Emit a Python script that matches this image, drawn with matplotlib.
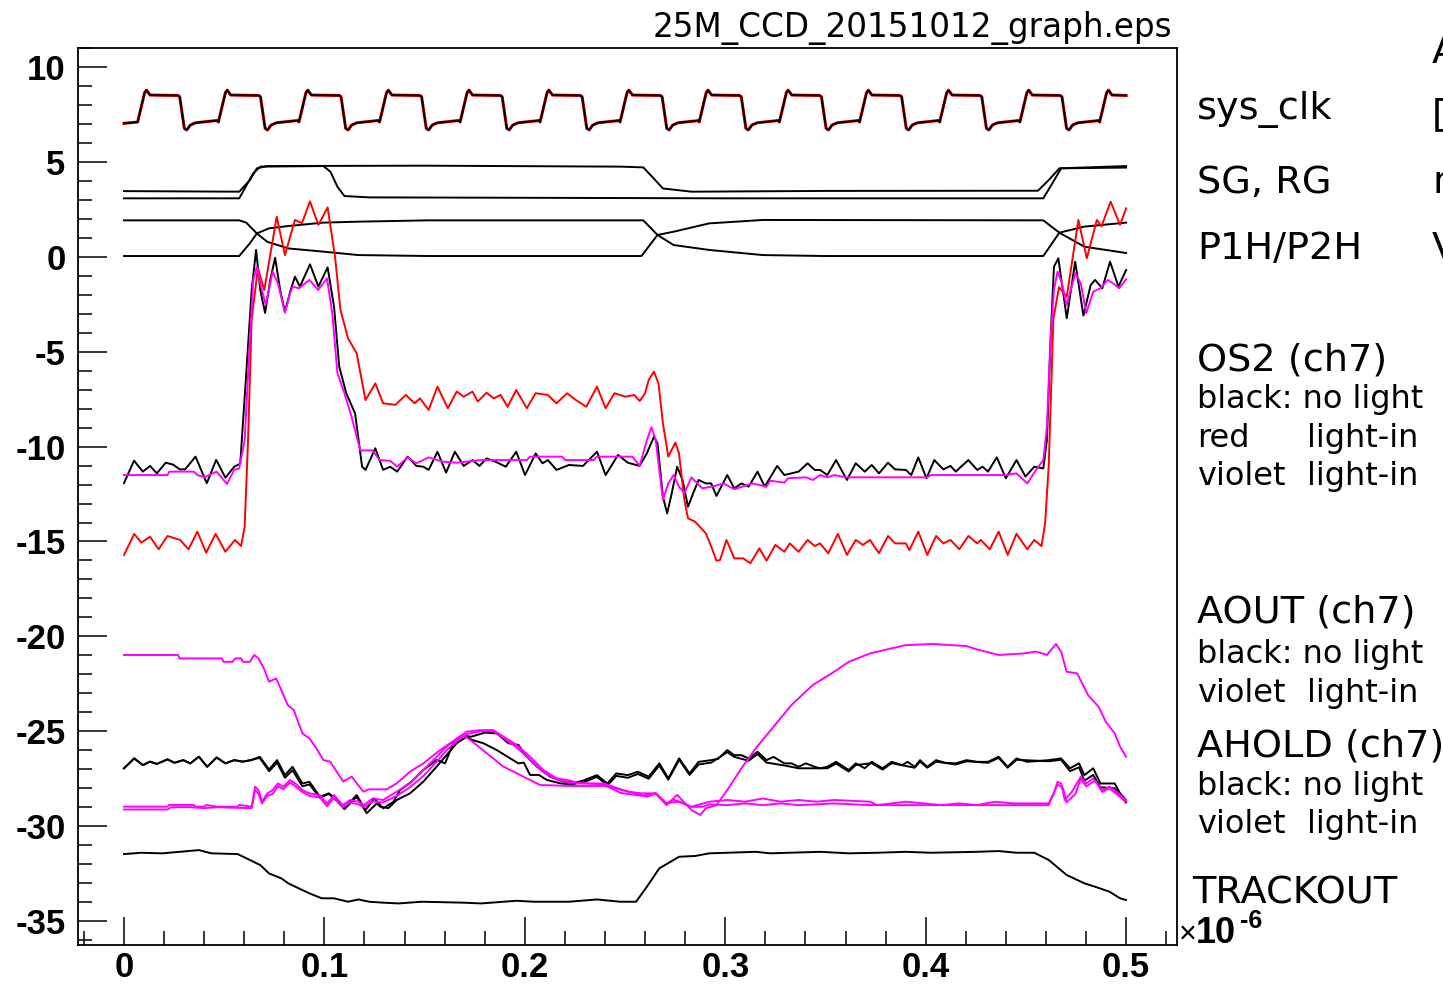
import matplotlib
matplotlib.use("Agg")
import matplotlib.pyplot as plt
from matplotlib.ticker import MultipleLocator

# ---- data (time in us, volts) ----
clk_rise_starts = [0.0068, 0.0471, 0.0873, 0.1275, 0.1677, 0.2076, 0.2475,
                   0.2870, 0.3270, 0.3670, 0.4070, 0.4470, 0.4868]
clk_shape_dt = [0.0, 0.0035, 0.0044, 0.0062, 0.0201, 0.0210, 0.0233, 0.0245, 0.0263, 0.0289, 0.0395]
clk_shape_v = [7.10, 8.65, 8.78, 8.52, 8.50, 8.43, 6.77, 6.68, 6.94, 7.06, 7.18]
clk_start_v = 7.03
clk_end_v = 8.50

sg_1 = [(0, 3.46), (0.0575, 3.43), (0.0628, 4.04), (0.0663, 4.66), (0.0715, 4.78), (0.15, 4.8),
        (0.2475, 4.75), (0.2591, 4.71), (0.2635, 4.22), (0.2689, 3.6), (0.2831, 3.43), (0.35, 3.47),
        (0.456, 3.48), (0.4614, 4.04), (0.4667, 4.66), (0.5, 4.78)]
sg_2 = [(0, 3.08), (0.0575, 3.08), (0.0645, 4.4), (0.068, 4.75), (0.0995, 4.78), (0.103, 4.48),
        (0.1065, 3.69), (0.11, 3.2), (0.1223, 3.13), (0.3, 3.08), (0.4587, 3.08), (0.4632, 3.87),
        (0.4676, 4.66), (0.5, 4.7)]

p_a = [(0, 1.92), (0.0575, 1.92), (0.061, 1.8), (0.0663, 1.23), (0.0715, 0.79), (0.082, 0.44),
       (0.0995, 0.27), (0.117, 0.09), (0.152, 0.04), (0.2582, 0.04), (0.2662, 1.15), (0.2742, 1.32),
       (0.292, 1.76), (0.3188, 1.94), (0.4587, 1.92), (0.4667, 1.27), (0.4792, 0.53), (0.5, 0.2)]
p_b = [(0, 0.04), (0.0575, 0.04), (0.0628, 0.71), (0.0663, 1.23), (0.0724, 1.5), (0.082, 1.62),
       (0.0995, 1.8), (0.117, 1.85), (0.152, 1.92), (0.2591, 1.92), (0.2662, 1.15), (0.2742, 0.62),
       (0.292, 0.36), (0.3188, 0.09), (0.35, 0.04), (0.4587, 0.04), (0.4667, 1.27), (0.4792, 1.59),
       (0.5, 1.8)]

os2_black = [(0.0, -11.93), (0.005, -10.74), (0.0094, -11.32), (0.013, -11.02), (0.0164, -11.41),
             (0.0208, -10.85), (0.0245, -10.95), (0.0278, -11.2), (0.0305, -11.2), (0.0357, -10.53),
             (0.0413, -11.93), (0.046, -10.7), (0.0506, -11.64), (0.055, -11.06), (0.058, -10.9),
             (0.061, -6.14), (0.0637, -1.75), (0.0659, 0.36), (0.068, -1.75), (0.0704, -2.96),
             (0.073, -1.2), (0.0754, -0.05), (0.078, -1.8), (0.0803, -2.9), (0.083, -1.8),
             (0.0853, -1.05), (0.0878, -1.57), (0.0928, -0.4), (0.097, -1.57), (0.1016, -0.56),
             (0.1048, -2.63), (0.1074, -5.79), (0.1109, -7.19), (0.1153, -8.25), (0.1188, -11.06),
             (0.1205, -11.23), (0.1254, -10.09), (0.1293, -11.23), (0.1328, -11.06), (0.1363, -11.32),
             (0.1415, -10.53), (0.1459, -11.02), (0.1494, -11.06), (0.152, -11.23), (0.1564, -10.27),
             (0.1607, -11.37), (0.1651, -10.27), (0.1695, -11.02), (0.1739, -10.71), (0.1774, -11.02),
             (0.1809, -10.62), (0.1852, -10.79), (0.1905, -11.06), (0.1957, -10.27), (0.2001, -11.5),
             (0.2054, -10.36), (0.2088, -10.88), (0.2115, -10.71), (0.2158, -11.23), (0.222, -10.97),
             (0.229, -11.02), (0.236, -10.27), (0.2403, -11.5), (0.2465, -10.44), (0.2514, -10.85),
             (0.2573, -11.02), (0.2609, -10.35), (0.2644, -9.48), (0.2662, -9.83), (0.2689, -12.64),
             (0.271, -13.52), (0.2733, -12.46), (0.276, -11.06), (0.2787, -11.76), (0.2814, -13.17),
             (0.284, -12.46), (0.2867, -11.76), (0.2903, -11.94), (0.293, -11.94), (0.2956, -12.6),
             (0.301, -11.5), (0.3045, -12.2), (0.3081, -11.94), (0.3117, -12.11), (0.3161, -11.32),
             (0.3197, -12.11), (0.3259, -11.02), (0.3295, -11.5), (0.3366, -11.32), (0.3411, -10.88),
             (0.3446, -11.23), (0.3473, -11.23), (0.3509, -11.5), (0.3553, -10.71), (0.3607, -11.76),
             (0.3651, -10.88), (0.3696, -11.32), (0.3731, -10.97), (0.3767, -11.41), (0.3812, -10.85),
             (0.3847, -11.2), (0.3901, -11.23), (0.3928, -11.5), (0.3963, -10.57), (0.4004, -11.67),
             (0.4043, -10.71), (0.4088, -11.2), (0.4124, -11.02), (0.415, -11.32), (0.4213, -10.71),
             (0.4257, -11.23), (0.4284, -11.06), (0.4311, -11.32), (0.4355, -10.57), (0.44, -11.67),
             (0.4453, -10.71), (0.4498, -11.58), (0.4542, -11.06), (0.4587, -11.15), (0.4605, -9.65),
             (0.4623, -4.38), (0.464, -0.52), (0.4662, -0.08), (0.4704, -3.24), (0.4746, -0.26),
             (0.4787, -3.1), (0.4823, -1.5), (0.4845, -1.22), (0.4881, -1.66), (0.492, -0.26),
             (0.4962, -1.57), (0.5, -0.7)]

os2_red = [(0.0, -15.71), (0.0051, -14.6), (0.0086, -15.06), (0.013, -14.75), (0.0173, -15.41),
           (0.0217, -14.71), (0.028, -14.92), (0.0322, -15.41), (0.0366, -14.48), (0.041, -15.59),
           (0.0457, -14.6), (0.0506, -15.54), (0.0554, -14.92), (0.0584, -15.24), (0.0602, -14.22),
           (0.0619, -9.65), (0.0637, -3.3), (0.0668, -0.6), (0.07, -1.75), (0.0762, 2.11),
           (0.0803, 0.09), (0.0853, 1.94), (0.0888, 1.77), (0.0928, 2.92), (0.097, 1.68),
           (0.1016, 2.6), (0.1053, 0.0), (0.108, -2.8), (0.1118, -4.3), (0.1161, -5.09),
           (0.1205, -7.55), (0.1254, -6.67), (0.1293, -7.72), (0.1354, -7.8), (0.1406, -7.28),
           (0.145, -7.72), (0.1477, -7.46), (0.152, -8.07), (0.1564, -6.84), (0.1616, -7.98),
           (0.166, -7.1), (0.1695, -7.37), (0.1739, -7.1), (0.1765, -7.63), (0.1809, -7.16),
           (0.1844, -7.46), (0.1879, -7.28), (0.1914, -7.9), (0.1957, -7.02), (0.201, -7.98),
           (0.2054, -7.19), (0.2115, -7.28), (0.2158, -7.72), (0.2211, -7.19), (0.2255, -7.55),
           (0.2307, -7.9), (0.236, -6.84), (0.2403, -7.98), (0.2447, -7.19), (0.2475, -7.28),
           (0.2502, -7.37), (0.2546, -7.28), (0.2573, -7.6), (0.26, -7.19), (0.2618, -6.49),
           (0.2644, -6.05), (0.2667, -6.67), (0.2689, -8.78), (0.2716, -10.53), (0.2751, -9.79),
           (0.2769, -10.35), (0.2796, -12.81), (0.2814, -13.78), (0.285, -13.96), (0.2903, -14.57),
           (0.293, -15.27), (0.2956, -16.01), (0.2974, -15.98), (0.3006, -14.92), (0.3045, -15.89),
           (0.309, -15.89), (0.3125, -16.15), (0.317, -15.36), (0.3206, -16.01), (0.325, -15.18),
           (0.3295, -15.54), (0.3322, -15.1), (0.3366, -15.54), (0.3411, -14.92), (0.3446, -15.24),
           (0.3473, -15.1), (0.3514, -15.62), (0.3562, -14.6), (0.3607, -15.71), (0.3651, -14.92),
           (0.3687, -15.18), (0.3722, -14.92), (0.3767, -15.62), (0.3812, -14.71), (0.3847, -15.1),
           (0.3901, -15.1), (0.3919, -15.45), (0.3963, -14.48), (0.4008, -15.71), (0.4052, -14.71),
           (0.4088, -15.1), (0.4124, -14.92), (0.4168, -15.41), (0.4213, -14.71), (0.4257, -15.1),
           (0.4275, -14.92), (0.432, -15.41), (0.4364, -14.48), (0.4409, -15.71), (0.4453, -14.6),
           (0.4507, -15.41), (0.4542, -14.92), (0.4578, -15.24), (0.4596, -14.04), (0.4614, -11.0),
           (0.4637, -3.3), (0.4665, -1.6), (0.4704, -2.1), (0.4762, 1.94), (0.4804, -0.08),
           (0.4854, 1.94), (0.4877, 1.6), (0.4923, 2.9), (0.497, 1.68), (0.5, 2.55)]

os2_violet = [(0.0, -11.5), (0.0217, -11.5), (0.0226, -11.32), (0.0348, -11.32), (0.0366, -11.5),
              (0.0401, -11.62), (0.0462, -11.32), (0.0514, -11.97), (0.055, -11.23), (0.0575, -11.15),
              (0.0602, -9.65), (0.0628, -4.38), (0.0645, -1.22), (0.0663, -0.52), (0.068, -1.4),
              (0.0707, -2.54), (0.0742, -0.78), (0.0768, -1.4), (0.0803, -2.94), (0.0829, -1.92),
              (0.0842, -1.57), (0.0873, -1.66), (0.0925, -1.22), (0.0969, -1.75), (0.1013, -1.14),
              (0.1039, -2.98), (0.1065, -6.14), (0.11, -7.19), (0.1135, -8.42), (0.1179, -10.2),
              (0.124, -10.2), (0.1275, -10.71), (0.1328, -10.75), (0.1363, -11.06), (0.1415, -10.57),
              (0.1459, -10.88), (0.152, -10.57), (0.159, -10.79), (0.166, -10.85), (0.1782, -10.71),
              (0.201, -10.71), (0.2027, -10.53), (0.2185, -10.53), (0.2202, -10.71), (0.2342, -10.71),
              (0.236, -10.53), (0.2537, -10.53), (0.2573, -11.02), (0.2609, -9.65), (0.2632, -8.98),
              (0.2653, -9.65), (0.2689, -12.81), (0.2716, -11.94), (0.2742, -11.5), (0.2769, -12.11),
              (0.2796, -12.46), (0.2831, -11.62), (0.2885, -12.2), (0.2938, -12.1), (0.2992, -11.94),
              (0.3045, -12.25), (0.3134, -11.94), (0.3206, -12.11), (0.3224, -11.8), (0.3295, -11.9),
              (0.3313, -11.67), (0.3402, -11.62), (0.3438, -11.76), (0.3473, -11.5), (0.3509, -11.62),
              (0.3544, -11.5), (0.3598, -11.62), (0.4008, -11.62), (0.4026, -11.5), (0.44, -11.5),
              (0.4453, -11.41), (0.4507, -11.94), (0.4551, -11.23), (0.4587, -10.71), (0.4605, -8.95),
              (0.4623, -4.38), (0.464, -1.75), (0.4658, -0.78), (0.468, -1.4), (0.4703, -2.54),
              (0.4747, -0.87), (0.4774, -1.4), (0.4801, -2.98), (0.4836, -1.84), (0.4872, -1.66),
              (0.4908, -1.22), (0.4935, -1.4), (0.4966, -1.66), (0.5, -1.19)]

aout_black = [(0.0, -26.95), (0.0051, -26.43), (0.0094, -26.78), (0.013, -26.6), (0.0164, -26.72),
              (0.0217, -26.48), (0.0252, -26.66), (0.0296, -26.52), (0.0331, -26.69), (0.0374, -26.34),
              (0.0415, -26.87), (0.0462, -26.38), (0.0506, -26.69), (0.055, -26.52), (0.0593, -26.6),
              (0.0637, -26.52), (0.0677, -26.34), (0.0724, -27.01), (0.0764, -26.52), (0.0803, -27.31),
              (0.0841, -26.87), (0.089, -27.75), (0.0925, -27.66), (0.0978, -28.45), (0.1022, -28.27),
              (0.1065, -28.62), (0.11, -29.06), (0.1161, -28.36), (0.1205, -29.15), (0.1249, -28.54),
              (0.1293, -29.06), (0.1345, -28.71), (0.1377, -28.1), (0.1435, -27.65), (0.1494, -27.04),
              (0.156, -26.51), (0.1602, -26.69), (0.1643, -25.63), (0.1685, -25.25), (0.1735, -25.28),
              (0.1801, -25.07), (0.186, -25.11), (0.1918, -25.63), (0.1968, -25.72), (0.201, -26.34),
              (0.206, -26.86), (0.2126, -27.39), (0.2193, -27.65), (0.2255, -27.7), (0.229, -27.6),
              (0.236, -27.31), (0.2412, -27.75), (0.2456, -27.22), (0.2514, -27.31), (0.2564, -27.13),
              (0.2618, -27.39), (0.2671, -26.69), (0.2716, -27.48), (0.277, -26.43), (0.2822, -27.22),
              (0.2867, -26.61), (0.293, -26.52), (0.2965, -26.45), (0.301, -25.99), (0.3045, -26.26),
              (0.3081, -26.26), (0.3117, -26.43), (0.3161, -26.08), (0.3206, -26.52), (0.3241, -26.35),
              (0.3295, -26.69), (0.3331, -26.69), (0.3366, -26.87), (0.3402, -26.69), (0.3446, -26.87),
              (0.3473, -26.95), (0.3509, -26.87), (0.3553, -26.61), (0.3616, -27.04), (0.3651, -26.69),
              (0.3696, -26.95), (0.3731, -26.61), (0.3785, -26.95), (0.383, -26.61), (0.3883, -26.78),
              (0.391, -26.61), (0.3945, -26.87), (0.3972, -26.52), (0.4008, -26.87), (0.4052, -26.52),
              (0.4097, -26.66), (0.415, -26.69), (0.4204, -26.52), (0.4257, -26.61), (0.4311, -26.61),
              (0.4364, -26.34), (0.4409, -26.87), (0.4453, -26.43), (0.4507, -26.61), (0.4614, -26.52),
              (0.4676, -26.43), (0.472, -26.95), (0.4765, -26.69), (0.4792, -27.31), (0.4836, -26.95),
              (0.4872, -27.75), (0.4907, -27.75), (0.4943, -27.75), (0.497, -28.27), (0.5, -28.62)]

ahold_black = [(0.0, -26.95), (0.0051, -26.43), (0.0094, -26.78), (0.013, -26.6), (0.0164, -26.72),
               (0.0217, -26.48), (0.0252, -26.66), (0.0296, -26.52), (0.0331, -26.69), (0.0374, -26.34),
               (0.0415, -26.87), (0.0462, -26.38), (0.0506, -26.69), (0.055, -26.52), (0.0593, -26.6),
               (0.0637, -26.5), (0.0677, -26.4), (0.0724, -27.1), (0.0764, -26.65), (0.0803, -27.45),
               (0.0841, -27.05), (0.089, -27.9), (0.0925, -27.8), (0.0978, -28.5), (0.1022, -28.3),
               (0.1065, -28.7), (0.11, -29.1), (0.1161, -28.45), (0.1211, -29.32), (0.1261, -28.8),
               (0.1278, -28.97), (0.1319, -29.05), (0.1361, -28.62), (0.1427, -28.27), (0.1494, -27.65),
               (0.156, -26.86), (0.161, -26.25), (0.166, -25.63), (0.171, -25.28), (0.1735, -25.45),
               (0.1793, -25.63), (0.186, -25.99), (0.1926, -26.42), (0.1968, -26.69), (0.1995, -26.65),
               (0.2026, -27.3), (0.207, -27.3), (0.2109, -27.56), (0.2176, -27.74), (0.2226, -27.8),
               (0.229, -27.7), (0.236, -27.4), (0.2412, -27.85), (0.2456, -27.35), (0.2514, -27.45),
               (0.2564, -27.25), (0.2618, -27.5), (0.2671, -26.8), (0.2716, -27.55), (0.277, -26.5),
               (0.2822, -27.3), (0.2867, -26.75), (0.293, -26.65), (0.301, -26.1), (0.3045, -26.35),
               (0.3117, -26.55), (0.3161, -26.2), (0.3206, -26.65), (0.3295, -26.8), (0.3366, -26.95),
               (0.3446, -26.95), (0.3509, -26.95), (0.3553, -26.7), (0.3616, -27.12), (0.3651, -26.78),
               (0.3731, -26.68), (0.3785, -27.02), (0.383, -26.68), (0.3945, -26.92), (0.3972, -26.6),
               (0.4008, -26.92), (0.4052, -26.6), (0.415, -26.75), (0.4204, -26.58), (0.4311, -26.66),
               (0.4364, -26.4), (0.4409, -26.92), (0.4453, -26.5), (0.4614, -26.58), (0.4676, -26.5),
               (0.472, -27.1), (0.4765, -26.9), (0.4792, -27.6), (0.4836, -27.3), (0.4872, -27.95),
               (0.4943, -28.0), (0.497, -28.4), (0.5, -28.75)]

aout_violet = [(0.0, -20.98), (0.0269, -20.98), (0.0278, -21.16), (0.0488, -21.16), (0.0497, -21.34),
               (0.0541, -21.34), (0.0555, -21.16), (0.0585, -21.16), (0.0593, -21.34), (0.0628, -21.34),
               (0.065, -20.98), (0.0671, -21.16), (0.0698, -21.69), (0.0724, -22.39), (0.0759, -22.21),
               (0.0785, -22.83), (0.0817, -23.62), (0.0847, -23.88), (0.089, -25.11), (0.0925, -25.37),
               (0.096, -25.9), (0.0995, -26.52), (0.1028, -26.6), (0.1094, -27.65), (0.1136, -27.39),
               (0.1194, -28.18), (0.1223, -28.06), (0.131, -28.06), (0.1361, -27.74), (0.1427, -27.13),
               (0.1494, -26.69), (0.1577, -25.99), (0.1627, -25.63), (0.1693, -25.2), (0.1727, -25.45),
               (0.181, -26.16), (0.1893, -26.86), (0.1993, -27.39), (0.2076, -27.83), (0.2226, -27.88),
               (0.2395, -27.88), (0.2475, -28.06), (0.2564, -28.3), (0.2609, -28.45), (0.2653, -28.27),
               (0.2707, -28.89), (0.276, -28.35), (0.2831, -29.15), (0.2876, -29.41), (0.2903, -29.05),
               (0.2956, -28.89), (0.301, -28.1), (0.3081, -26.95), (0.3152, -25.9), (0.3241, -24.76),
               (0.333, -23.62), (0.3437, -22.56), (0.3544, -21.86), (0.3616, -21.34), (0.3722, -20.9),
               (0.383, -20.63), (0.3901, -20.46), (0.4034, -20.4), (0.4204, -20.51), (0.4257, -20.69),
               (0.4364, -20.98), (0.4489, -20.9), (0.4551, -20.8), (0.4605, -20.98), (0.465, -20.4),
               (0.4676, -20.81), (0.4703, -21.86), (0.4756, -21.95), (0.481, -23.09), (0.4863, -23.71),
               (0.4899, -24.5), (0.4943, -25.11), (0.497, -25.81), (0.5, -26.34)]

ahold_violet_1 = [(0.0, -28.97), (0.0217, -28.97), (0.0226, -28.88), (0.0348, -28.88), (0.0357, -28.97),
                  (0.0401, -28.97), (0.041, -28.88), (0.0462, -28.97), (0.0567, -28.97), (0.0575, -28.88),
                  (0.0637, -28.97), (0.0654, -27.92), (0.0671, -28.1), (0.0689, -28.71), (0.0715, -28.27),
                  (0.0742, -28.1), (0.0768, -27.75), (0.0794, -27.92), (0.0829, -27.57), (0.0855, -27.75),
                  (0.089, -28.1), (0.0925, -28.27), (0.0978, -28.36), (0.1013, -28.8), (0.1048, -28.36),
                  (0.1092, -28.89), (0.1127, -28.62), (0.117, -28.71), (0.1197, -28.89), (0.124, -28.54),
                  (0.1293, -28.62), (0.1361, -28.18), (0.1427, -27.74), (0.1527, -26.69), (0.161, -25.81),
                  (0.1661, -25.37), (0.171, -25.02), (0.1777, -24.94), (0.1843, -24.94), (0.1893, -25.28),
                  (0.1959, -25.72), (0.2026, -26.34), (0.2092, -27.04), (0.2159, -27.48), (0.2226, -27.6),
                  (0.2272, -27.75), (0.2395, -27.75), (0.2465, -28.01), (0.2514, -28.18), (0.2582, -28.27),
                  (0.2653, -28.27), (0.2707, -28.8), (0.2742, -28.6), (0.2831, -28.98), (0.2921, -28.71),
                  (0.301, -28.62), (0.3099, -28.71), (0.3188, -28.54), (0.3277, -28.71), (0.3366, -28.62),
                  (0.3455, -28.71), (0.3544, -28.62), (0.3722, -28.71), (0.3758, -28.89), (0.3901, -28.71),
                  (0.399, -28.8), (0.4079, -28.89), (0.4257, -28.89), (0.4346, -28.71), (0.4435, -28.8),
                  (0.4614, -28.8), (0.464, -28.27), (0.4658, -27.66), (0.4676, -27.75), (0.4694, -28.62),
                  (0.473, -28.18), (0.4774, -27.39), (0.4801, -27.75), (0.4836, -27.48), (0.4881, -28.1),
                  (0.4917, -27.92), (0.4952, -28.18), (0.5, -28.62)]

ahold_violet_2 = [(0.0, -29.12), (0.0217, -29.12), (0.0235, -29.0), (0.033, -29.0), (0.0401, -29.05),
                  (0.0462, -29.0), (0.0637, -29.05), (0.0654, -28.1), (0.0671, -28.3), (0.0689, -28.8),
                  (0.0715, -28.4), (0.0742, -28.3), (0.0768, -27.9), (0.0794, -28.05), (0.0829, -27.7),
                  (0.0855, -27.9), (0.089, -28.2), (0.0925, -28.4), (0.0978, -28.5), (0.1013, -28.95),
                  (0.1048, -28.5), (0.1092, -29.0), (0.1127, -28.75), (0.117, -28.85), (0.1197, -29.0),
                  (0.124, -28.7), (0.1293, -28.75), (0.1361, -28.4), (0.1427, -27.95), (0.1494, -27.35),
                  (0.156, -26.6), (0.161, -26.0), (0.166, -25.5), (0.171, -25.15), (0.1777, -25.0),
                  (0.1843, -25.0), (0.1893, -25.35), (0.1959, -25.85), (0.2026, -26.5), (0.2092, -27.15),
                  (0.2159, -27.55), (0.2226, -27.7), (0.2395, -27.8), (0.2475, -28.24), (0.2582, -28.4),
                  (0.2653, -28.27), (0.2707, -28.8), (0.2769, -28.7), (0.2831, -28.98), (0.2885, -28.98),
                  (0.2921, -28.85), (0.301, -28.89), (0.3099, -28.8), (0.3188, -28.89), (0.3277, -28.8),
                  (0.3366, -28.89), (0.3544, -28.8), (0.3722, -28.89), (0.3901, -28.89), (0.4079, -28.89),
                  (0.4168, -28.8), (0.4257, -28.89), (0.4435, -28.89), (0.4614, -28.89), (0.4632, -28.4),
                  (0.4658, -27.8), (0.4685, -28.0), (0.4703, -28.75), (0.4747, -28.3), (0.4774, -27.5),
                  (0.4801, -27.9), (0.4845, -27.6), (0.4881, -28.2), (0.4917, -28.0), (0.4952, -28.3),
                  (0.5, -28.7)]

trackout = [(0.0, -31.47), (0.0086, -31.4), (0.0191, -31.43), (0.0278, -31.35), (0.0374, -31.26),
            (0.0436, -31.43), (0.0567, -31.47), (0.0628, -31.78), (0.068, -32.05), (0.0724, -32.49),
            (0.0785, -32.75), (0.082, -33.01), (0.0873, -33.28), (0.0925, -33.54), (0.0987, -33.8),
            (0.1048, -33.8), (0.1118, -33.98), (0.117, -33.86), (0.1223, -33.98), (0.1293, -34.03),
            (0.1371, -34.07), (0.1485, -33.98), (0.1695, -34.03), (0.1782, -34.07), (0.1957, -33.93),
            (0.2045, -33.98), (0.222, -33.98), (0.236, -33.86), (0.2475, -33.98), (0.2555, -33.98),
            (0.2609, -33.19), (0.2671, -32.22), (0.277, -31.61), (0.285, -31.57), (0.292, -31.43),
            (0.301, -31.4), (0.3152, -31.35), (0.3224, -31.43), (0.3473, -31.35), (0.3616, -31.43),
            (0.3758, -31.4), (0.3901, -31.35), (0.4026, -31.4), (0.4257, -31.35), (0.4364, -31.31),
            (0.4453, -31.4), (0.4542, -31.4), (0.4614, -31.78), (0.4703, -32.57), (0.4792, -33.01),
            (0.4845, -33.19), (0.4917, -33.45), (0.497, -33.8), (0.5, -33.89)]

x_ticks = [0, 0.1, 0.2, 0.3, 0.4, 0.5]
x_labels = ["0", "0.1", "0.2", "0.3", "0.4", "0.5"]
y_ticks = [-35, -30, -25, -20, -15, -10, -5, 0, 5, 10]

# labels on the right: (text, x px, baseline px, size)
right_labels = [
    ("sys_clk", 1197, 119, 27.5), ("SG, RG", 1197, 193, 27.5), ("P1H/P2H", 1197, 259, 27.5),
    ("OS2 (ch7)", 1197, 370, 27.5),
    ("black: no light", 1197, 408, 23),
    ("red", 1197, 447, 23), ("light-in", 1307, 447, 23),
    ("violet", 1197, 485, 23), ("light-in", 1307, 485, 23),
    ("AOUT (ch7)", 1197, 622, 27.5),
    ("black: no light", 1197, 663, 23),
    ("violet", 1197, 702, 23), ("light-in", 1307, 702, 23),
    ("AHOLD (ch7)", 1197, 757, 27.5),
    ("black: no light", 1197, 795, 23),
    ("violet", 1197, 833, 23), ("light-in", 1307, 833, 23),
    ("TRACKOUT", 1192, 904, 27.5),
    ("A", 1432, 63, 27.5), ("[", 1432, 125, 27.5), ("n", 1432, 193, 27.5), ("V", 1432, 259, 27.5),
]


def clock_points():
    pts = [(0.0, clk_start_v)]
    for r in clk_rise_starts:
        for dt, v in zip(clk_shape_dt, clk_shape_v):
            if r + dt < 0.5:
                pts.append((r + dt, v))
    pts.append((0.5, clk_end_v))
    return pts


W, H = 1443, 984
fig = plt.figure(figsize=(W / 100, H / 100), dpi=100)
ax = fig.add_axes([78 / W, 1 - 945 / H, (1177 - 78) / W, (945 - 48) / H])


def draw(points, color, lw=1.4):
    t, v = zip(*points)
    ax.plot(t, v, color=color, lw=lw, solid_joinstyle="round")


clk = clock_points()
draw(clk, "red", lw=2.2)
draw(clk, "black", lw=1.4)
for tr in (sg_1, sg_2, p_a, p_b):
    draw(tr, "black")
draw(os2_black, "black")
draw(os2_red, "red")
draw(os2_violet, "magenta")
draw(aout_black, "black")
draw(ahold_black, "black")
draw(aout_violet, "magenta")
draw(ahold_violet_1, "magenta")
draw(ahold_violet_2, "magenta")
draw(trackout, "black")

ax.set_xlim(-0.02295, 0.5254)
ax.set_ylim(-36.26, 11.0)
for s in ax.spines.values():
    s.set_linewidth(1.3)

tick_font = {"family": "Liberation Sans", "weight": "bold", "size": 25}
ax.set_xticks(x_ticks)
ax.set_xticklabels(x_labels, fontdict=tick_font)
ax.set_yticks(y_ticks)
ax.set_yticklabels([str(v) for v in y_ticks], fontdict=tick_font)
ax.xaxis.set_minor_locator(MultipleLocator(0.02))
ax.yaxis.set_minor_locator(MultipleLocator(1))
ax.tick_params(axis="y", which="major", direction="in", length=21, width=1.1, pad=9,
               left=True, right=False)
ax.tick_params(axis="y", which="minor", direction="in", length=10, width=1.1, left=True, right=False)
ax.tick_params(axis="x", which="major", direction="in", length=20, width=1.1, pad=4,
               bottom=True, top=False)
ax.tick_params(axis="x", which="minor", direction="in", length=10, width=1.1, bottom=True, top=False)


def px_text(x, y, s, **kw):
    fig.text(x / W, 1 - y / H, s, va="baseline", **kw)


px_text(1172, 37, "25M_CCD_20151012_graph.eps", ha="right", fontsize=23.5, family="DejaVu Sans")
for s, x, y, size in right_labels:
    px_text(x, y, s, ha="left", fontsize=size, family="DejaVu Sans")

px_text(1179, 943, "\u00d7", ha="left", fontsize=22, family="Liberation Sans")
px_text(1196, 943, "10", ha="left", fontsize=26, family="Liberation Sans", weight="bold")
px_text(1240, 928, "-6", ha="left", fontsize=18, family="Liberation Sans", weight="bold")

fig.savefig("out.png", dpi=100)
